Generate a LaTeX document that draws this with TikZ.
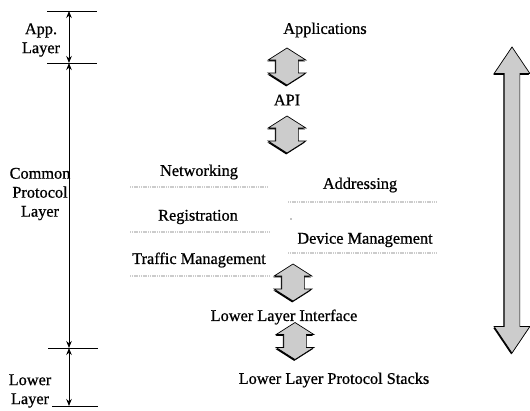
\documentclass[tikz,border=0pt]{standalone}
\usepackage{fontspec}
\setmainfont{Liberation Serif}
\newfontfamily\lblfont{Liberation Serif}[FakeBold=0.8]
\usetikzlibrary{arrows.meta,shapes.arrows,shadows}

\begin{document}
\begin{tikzpicture}[x=1pt,y=-1pt,
    lbl/.style={font=\lblfont\fontsize{16.3}{19}\selectfont,inner sep=0pt,align=center},
    updown/.style={double arrow,rotate=90,draw=black,line width=0.7pt,fill=gray!40,
        inner xsep=0pt,inner ysep=11pt,double arrow head extend=7.5pt,
        double arrow tip angle=115,minimum height=37pt,
        drop shadow={shadow xshift=-0.8pt,shadow yshift=-1.4pt,fill=black,opacity=1}},
    greyline/.style={gray!40,line width=1.8pt,dash pattern=on 1.2pt off 0.6pt},
    span/.style={line width=0.8pt,{Stealth[length=7pt,width=5.5pt]}-{Stealth[length=7pt,width=5.5pt]}}]
        \useasboundingbox (0,0) rectangle (530,410);
        \pgfmathsetmacro\xs{69}
        % layer scale on the left
        \coordinate (S1) at (\xs,11);
        \coordinate (S2) at (\xs,63);
        \coordinate (S3) at (\xs,348);
        \coordinate (S4) at (\xs,406);
        \draw[line width=0.8pt] (47,11) -- (97,11);
        \draw[line width=0.8pt] (47,63) -- (97,63);
        \draw[line width=0.8pt] (48,348) -- (98,348);
        \draw[line width=0.8pt] (52,406) -- (98,406);
        \draw[span] (S1) -- (S2);
        \draw[span] (S2) -- (S3);
        \draw[span] (S3) -- (S4);
        \node[lbl] (app) at (41,40) {App.\\Layer};
        \node[lbl] (cpl) at (40,194) {Common\\Protocol\\Layer};
        \node[lbl] (low) at (30,391) {Lower\\Layer};
        % protocol stack
        \node[lbl] (apps) at (325,30) {Applications};
        \node[updown] (a1) at (287,66.5) {};
        \node[lbl] (api) at (287,100) {API};
        \node[updown] (a2) at (287,134.5) {};
        \node[lbl] (net) at (199,172) {Networking};
        \node[lbl] (reg) at (198,217) {Registration};
        \node[lbl] (tm) at (199,260) {Traffic Management};
        \node[lbl] (adr) at (360,185) {Addressing};
        \node[lbl] (dm) at (365,240) {Device Management};
        \draw[greyline] (130,187) -- (267,187);
        \draw[greyline] (130,232) -- (269,232);
        \draw[greyline] (130,276) -- (270,276);
        \draw[greyline] (288,202) -- (437,202);
        \draw[greyline] (288,253) -- (437,253);
        \fill (291,219) circle (0.6pt);
        \node[updown] (a3) at (293,282.5) {};
        \node[lbl] (lli) at (284,317) {Lower Layer Interface};
        \node[updown] (a4) at (295,341) {};
        \node[lbl] (llps) at (334,380) {Lower Layer Protocol Stacks};
        % whole stack
        \node[updown,inner ysep=7.5pt,double arrow head extend=10pt,
            double arrow tip angle=68,minimum height=306pt] (all) at (512,200) {};
\end{tikzpicture}
\end{document}
